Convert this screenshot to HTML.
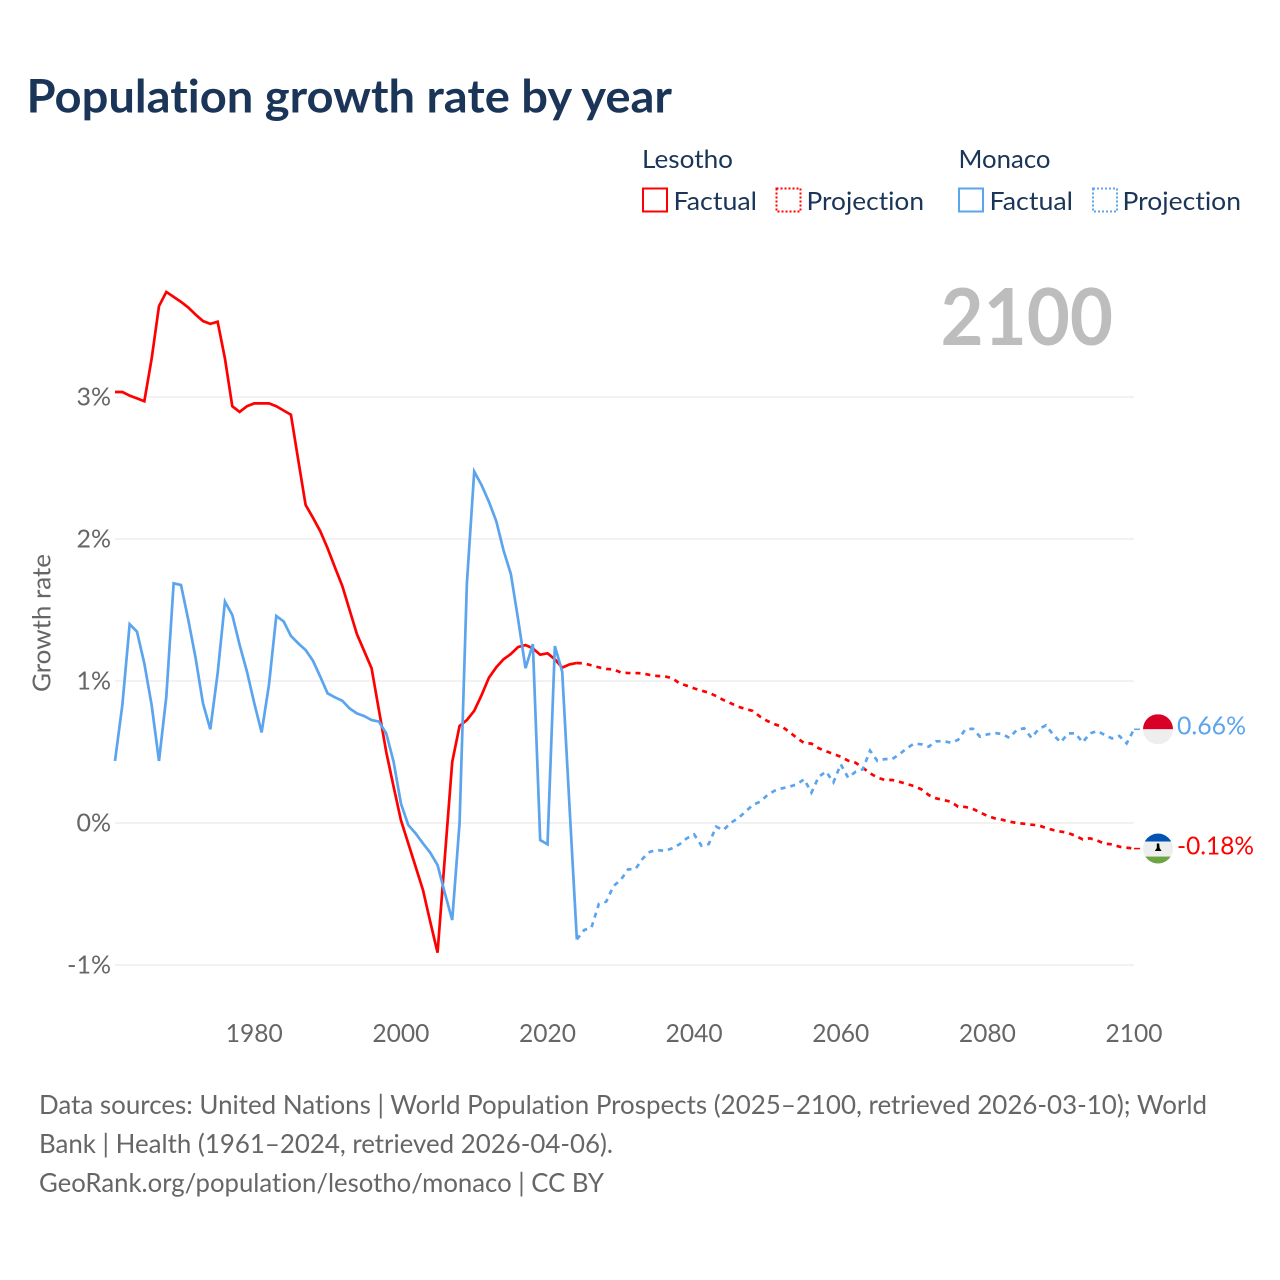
<!DOCTYPE html>
<html lang="en">
<head>
<meta charset="utf-8">
<title>Population growth rate by year</title>
<style>
html,body{margin:0;padding:0;background:#fff;width:1280px;height:1280px;overflow:hidden}
svg{display:block}
text{font-family:"Lato","Carlito","Liberation Sans",sans-serif;font-variant-ligatures:none;font-feature-settings:"liga" 0,"dlig" 0,"clig" 0}
</style>
</head>
<body>
<svg id="chart" xmlns="http://www.w3.org/2000/svg" width="1280" height="1280" viewBox="0 0 1280 1280">
  <rect x="0" y="0" width="1280" height="1280" fill="#fff"/>
  <text x="26.5" y="112.5" font-size="46" font-weight="700" fill="#1a3557" textLength="645.5" lengthAdjust="spacingAndGlyphs">Population growth rate by year</text>

  <g font-size="25" fill="#1a3557">
    <text x="642" y="168" textLength="91" lengthAdjust="spacingAndGlyphs">Lesotho</text>
    <text x="958.5" y="168" textLength="92" lengthAdjust="spacingAndGlyphs">Monaco</text>
    <g>
      <rect x="643" y="188.5" width="24" height="23" fill="none" stroke="#ff0000" stroke-width="2"/>
      <text x="673.5" y="210" textLength="83.5" lengthAdjust="spacingAndGlyphs">Factual</text>
    </g>
    <g>
      <rect x="776.5" y="188.5" width="24" height="23" fill="none" stroke="#ff0000" stroke-width="2" stroke-dasharray="2,2"/>
      <text x="806.5" y="210" textLength="117.5" lengthAdjust="spacingAndGlyphs">Projection</text>
    </g>
    <g>
      <rect x="959" y="188.5" width="24" height="23" fill="none" stroke="#5ba4ee" stroke-width="2"/>
      <text x="989.5" y="210" textLength="83.5" lengthAdjust="spacingAndGlyphs">Factual</text>
    </g>
    <g>
      <rect x="1093" y="188.5" width="24" height="23" fill="none" stroke="#5ba4ee" stroke-width="2" stroke-dasharray="2,2"/>
      <text x="1122.5" y="210" textLength="118.5" lengthAdjust="spacingAndGlyphs">Projection</text>
    </g>
  </g>

  <text x="940.5" y="345" font-size="79" font-weight="700" fill="#bdbdbd" textLength="172.5" lengthAdjust="spacingAndGlyphs">2100</text>
  <text transform="translate(50.5,692) rotate(-90)" font-size="25" fill="#666666" textLength="138" lengthAdjust="spacingAndGlyphs">Growth rate</text>

  <g id="grid"></g>
  <g id="yticks"></g>
  <g id="xticks"></g>
  <g id="series"></g>

  <defs>
    <clipPath id="clip-monaco"><circle id="clip-monaco-circle" cx="1158" cy="729" r="15"/></clipPath>
    <clipPath id="clip-lesotho"><circle id="clip-lesotho-circle" cx="1158" cy="848" r="15"/></clipPath>
  </defs>
  <g id="flag-monaco" clip-path="url(#clip-monaco)">
    <rect x="1143" y="714" width="30" height="15" fill="#d80027"/>
    <rect x="1143" y="729" width="30" height="15" fill="#eeeeee"/>
  </g>
  <g id="flag-lesotho" clip-path="url(#clip-lesotho)">
    <rect x="1143" y="833" width="30" height="8" fill="#0052b4"/>
    <rect x="1143" y="841" width="30" height="15" fill="#eeeeee"/>
    <rect x="1143" y="856" width="30" height="8" fill="#6da544"/>
    <path d="M1156.8 843h2.4l.4 4.4 2 3h-6.8l2-3z" fill="#000"/>
  </g>
  <text id="end-label-monaco" x="1177" y="734" font-size="25" fill="#5ba4ee" textLength="69" lengthAdjust="spacingAndGlyphs"></text>
  <text id="end-label-lesotho" x="1177" y="854" font-size="25" fill="#ff0000" textLength="77" lengthAdjust="spacingAndGlyphs"></text>

  <g font-size="26" fill="#666666">
    <text x="39" y="1114" textLength="1168" lengthAdjust="spacingAndGlyphs">Data sources: United Nations | World Population Prospects (2025–2100, retrieved 2026-03-10); World</text>
    <text x="39" y="1153" textLength="574" lengthAdjust="spacingAndGlyphs">Bank | Health (1961–2024, retrieved 2026-04-06).</text>
    <text x="39" y="1192" textLength="565" lengthAdjust="spacingAndGlyphs">GeoRank.org/population/lesotho/monaco | CC BY</text>
  </g>
</svg>
<script>
const yTickValues = [-1, 0, 1, 2, 3];
const yTickLabels = ["-1%", "0%", "1%", "2%", "3%"];
const xTickValues = [1980, 2000, 2020, 2040, 2060, 2080, 2100];
const xTickLabels = ["1980", "2000", "2020", "2040", "2060", "2080", "2100"];

const factualYears = [1961,1962,1963,1964,1965,1966,1967,1968,1969,1970,1971,1972,1973,1974,1975,1976,1977,1978,1979,1980,1981,1982,1983,1984,1985,1986,1987,1988,1989,1990,1991,1992,1993,1994,1995,1996,1997,1998,1999,2000,2001,2002,2003,2004,2005,2006,2007,2008,2009,2010,2011,2012,2013,2014,2015,2016,2017,2018,2019,2020,2021,2022,2023,2024];
const projectionYears = [2024,2025,2026,2027,2028,2029,2030,2031,2032,2033,2034,2035,2036,2037,2038,2039,2040,2041,2042,2043,2044,2045,2046,2047,2048,2049,2050,2051,2052,2053,2054,2055,2056,2057,2058,2059,2060,2061,2062,2063,2064,2065,2066,2067,2068,2069,2070,2071,2072,2073,2074,2075,2076,2077,2078,2079,2080,2081,2082,2083,2084,2085,2086,2087,2088,2089,2090,2091,2092,2093,2094,2095,2096,2097,2098,2099,2100];

const lesothoFactual = [3.035,3.035,3.01,2.99,2.97,3.27,3.64,3.74,3.705,3.67,3.63,3.58,3.535,3.515,3.53,3.27,2.935,2.895,2.935,2.955,2.955,2.955,2.935,2.905,2.875,2.555,2.24,2.15,2.055,1.935,1.8,1.67,1.5,1.33,1.21,1.09,0.796,0.5,0.256,0.02,-0.143,-0.307,-0.47,-0.695,-0.913,-0.237,0.43,0.683,0.725,0.79,0.9,1.023,1.096,1.153,1.19,1.24,1.253,1.23,1.185,1.195,1.153,1.094,1.117,1.127];
const monacoFactual = [0.437,0.83,1.4,1.347,1.124,0.83,0.437,0.89,1.688,1.676,1.43,1.16,0.843,0.66,1.054,1.559,1.465,1.254,1.066,0.843,0.638,0.972,1.458,1.42,1.317,1.265,1.218,1.143,1.03,0.913,0.885,0.861,0.807,0.772,0.753,0.725,0.714,0.631,0.432,0.138,-0.014,-0.073,-0.143,-0.209,-0.296,-0.495,-0.683,-0.002,1.688,2.475,2.38,2.263,2.127,1.92,1.753,1.43,1.09,1.26,-0.12,-0.15,1.246,1.066,0.115,-0.82];
const lesothoProjection = [1.127,1.124,1.11,1.096,1.085,1.082,1.06,1.056,1.056,1.054,1.042,1.035,1.033,1.02,0.984,0.967,0.948,0.932,0.918,0.894,0.866,0.843,0.819,0.803,0.789,0.749,0.718,0.695,0.678,0.641,0.6,0.563,0.559,0.526,0.505,0.486,0.467,0.439,0.425,0.39,0.35,0.32,0.303,0.303,0.29,0.275,0.26,0.237,0.197,0.174,0.162,0.15,0.115,0.113,0.1,0.075,0.05,0.033,0.023,0.01,0,-0.005,-0.012,-0.017,-0.035,-0.05,-0.06,-0.07,-0.09,-0.115,-0.108,-0.124,-0.146,-0.15,-0.167,-0.174,-0.18];
const monacoProjection = [-0.82,-0.754,-0.735,-0.57,-0.554,-0.444,-0.4,-0.326,-0.324,-0.249,-0.202,-0.19,-0.197,-0.178,-0.15,-0.108,-0.08,-0.16,-0.148,-0.026,-0.05,0.002,0.033,0.08,0.127,0.15,0.197,0.228,0.244,0.256,0.272,0.308,0.214,0.326,0.362,0.286,0.413,0.32,0.36,0.378,0.509,0.437,0.45,0.45,0.484,0.526,0.559,0.554,0.538,0.575,0.577,0.566,0.585,0.66,0.664,0.608,0.624,0.634,0.627,0.6,0.655,0.667,0.6,0.662,0.688,0.62,0.568,0.631,0.631,0.568,0.631,0.648,0.62,0.596,0.613,0.561,0.66];

const endValueLabels = ["-0.18%", "0.66%"];

const SVG_NS = "http://www.w3.org/2000/svg";
const plotLeft = 115, plotRight = 1134, zeroY = 823, unitY = 142;

function xScale(year) {
  const first = factualYears[0];
  const last = projectionYears[projectionYears.length - 1];
  return plotLeft + (year - first) * (plotRight - plotLeft) / (last - first);
}
function yScale(value) {
  return zeroY - value * unitY;
}
function make(tag, parent) {
  const el = document.createElementNS(SVG_NS, tag);
  parent.appendChild(el);
  return el;
}
function linePath(years, values) {
  return years.map(function (yr, i) {
    return (i ? "L" : "M") + xScale(yr).toFixed(2) + " " + yScale(values[i]).toFixed(2);
  }).join("");
}

const grid = document.getElementById("grid");
const yticks = document.getElementById("yticks");
const xticks = document.getElementById("xticks");
const series = document.getElementById("series");

yTickValues.forEach(function (v, i) {
  const line = make("line", grid);
  
  
  line.setAttribute("x1", plotLeft);
  line.setAttribute("x2", plotRight);
  line.setAttribute("y1", yScale(v));
  line.setAttribute("y2", yScale(v));
  line.setAttribute("stroke", "#eeeeee");
  line.setAttribute("stroke-width", "1.5");

  const label = make("text", yticks);
  
  
  label.setAttribute("x", 111);
  label.setAttribute("y", yScale(v) + 8.5);
  label.setAttribute("text-anchor", "end");
  label.setAttribute("font-size", "25");
  label.setAttribute("fill", "#666666");
  label.textContent = yTickLabels[i];
});

xTickValues.forEach(function (v, i) {
  const label = make("text", xticks);
  
  
  label.setAttribute("x", xScale(v));
  label.setAttribute("y", 1042);
  label.setAttribute("text-anchor", "middle");
  label.setAttribute("font-size", "25");
  label.setAttribute("fill", "#666666");
  label.setAttribute("textLength", "57");
  label.setAttribute("lengthAdjust", "spacingAndGlyphs");
  label.textContent = xTickLabels[i];
});

const redColor = "#ff0000", blueColor = "#5ba4ee";

const lesothoFactualLine = make("path", series);


lesothoFactualLine.setAttribute("d", linePath(factualYears, lesothoFactual));
lesothoFactualLine.setAttribute("fill", "none");
lesothoFactualLine.setAttribute("stroke", redColor);
lesothoFactualLine.setAttribute("stroke-width", "2.7");

const monacoFactualLine = make("path", series);


monacoFactualLine.setAttribute("d", linePath(factualYears, monacoFactual));
monacoFactualLine.setAttribute("fill", "none");
monacoFactualLine.setAttribute("stroke", blueColor);
monacoFactualLine.setAttribute("stroke-width", "2.7");

const lesothoProjectionLine = make("path", series);


lesothoProjectionLine.setAttribute("d", linePath(projectionYears, lesothoProjection));
lesothoProjectionLine.setAttribute("fill", "none");
lesothoProjectionLine.setAttribute("stroke", redColor);
lesothoProjectionLine.setAttribute("stroke-width", "2.7");
lesothoProjectionLine.setAttribute("stroke-dasharray", "5,5");

const monacoProjectionLine = make("path", series);


monacoProjectionLine.setAttribute("d", linePath(projectionYears, monacoProjection));
monacoProjectionLine.setAttribute("fill", "none");
monacoProjectionLine.setAttribute("stroke", blueColor);
monacoProjectionLine.setAttribute("stroke-width", "2.7");
monacoProjectionLine.setAttribute("stroke-dasharray", "5,5");

const lesothoEnd = lesothoProjection[lesothoProjection.length - 1];
const monacoEnd = monacoProjection[monacoProjection.length - 1];

const lesothoConnector = make("line", series);


lesothoConnector.setAttribute("x1", xScale(2100));
lesothoConnector.setAttribute("x2", xScale(2100) + 6);
lesothoConnector.setAttribute("y1", yScale(lesothoEnd));
lesothoConnector.setAttribute("y2", yScale(lesothoEnd));
lesothoConnector.setAttribute("stroke", redColor);
lesothoConnector.setAttribute("stroke-width", "1.5");

const monacoConnector = make("line", series);


monacoConnector.setAttribute("x1", xScale(2100));
monacoConnector.setAttribute("x2", xScale(2100) + 6);
monacoConnector.setAttribute("y1", yScale(monacoEnd));
monacoConnector.setAttribute("y2", yScale(monacoEnd));
monacoConnector.setAttribute("stroke", blueColor);
monacoConnector.setAttribute("stroke-width", "1.5");

document.getElementById("flag-monaco").setAttribute("transform", "translate(0," + (yScale(monacoEnd) - 729) + ")");
document.getElementById("clip-monaco-circle").setAttribute("cy", 729);
document.getElementById("flag-lesotho").setAttribute("transform", "translate(0," + (yScale(lesothoEnd) - 848) + ")");
document.getElementById("clip-lesotho-circle").setAttribute("cy", 848);

const lesothoLabel = document.getElementById("end-label-lesotho");
lesothoLabel.textContent = endValueLabels[0];
lesothoLabel.setAttribute("y", yScale(lesothoEnd) + 6);
const monacoLabel = document.getElementById("end-label-monaco");
monacoLabel.textContent = endValueLabels[1];
monacoLabel.setAttribute("y", yScale(monacoEnd) + 5);
</script>
</body>
</html>
